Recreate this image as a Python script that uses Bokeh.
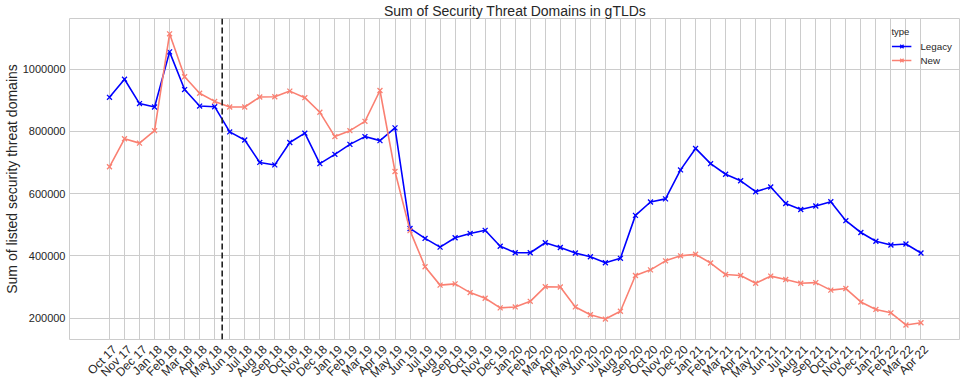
from bokeh.plotting import figure
from bokeh.models import (FixedTicker, BasicTickFormatter, Span, Range1d, Legend, LegendItem,
                          LinearAxis, Grid)
from bokeh.embed import file_html
from bokeh.resources import INLINE

months = ["Oct 17", "Nov 17", "Dec 17", "Jan 18", "Feb 18", "Mar 18", "Apr 18", "May 18",
          "Jun 18", "Jul 18", "Aug 18", "Sep 18", "Oct 18", "Nov 18", "Dec 18", "Jan 19",
          "Feb 19", "Mar 19", "Apr 19", "May 19", "Jun 19", "Jul 19", "Aug 19", "Sep 19",
          "Oct 19", "Nov 19", "Dec 19", "Jan 20", "Feb 20", "Mar 20", "Apr 20", "May 20",
          "Jun 20", "Jul 20", "Aug 20", "Sep 20", "Oct 20", "Nov 20", "Dec 20", "Jan 21",
          "Feb 21", "Mar 21", "Apr 21", "May 21", "Jun 21", "Jul 21", "Aug 21", "Sep 21",
          "Oct 21", "Nov 21", "Dec 21", "Jan 22", "Feb 22", "Mar 22", "Apr 22"]

legacy = [909000, 967000, 889000, 878000, 1055000, 934000, 881000, 879000,
          798000, 772000, 700000, 692000, 764000, 794000, 696000, 726000,
          758000, 783000, 770000, 811000, 488000, 456000, 428000, 458000,
          472000, 482000, 431000, 410000, 410000, 442000, 427000, 409000,
          397000, 378000, 392000, 530000, 573000, 583000, 676000, 745000,
          696000, 662000, 641000, 606000, 621000, 568000, 549000, 560000,
          574000, 513000, 475000, 447000, 435000, 438000, 409000]

new = [686000, 776000, 762000, 802000, 1113000, 975000, 922000, 896000,
       878000, 878000, 910000, 911000, 929000, 908000, 861000, 783000,
       802000, 832000, 931000, 671000, 481000, 365000, 306000, 310000,
       282000, 264000, 233000, 236000, 254000, 301000, 300000, 236000,
       211000, 197000, 222000, 337000, 355000, 384000, 400000, 405000,
       377000, 340000, 337000, 312000, 335000, 324000, 312000, 314000,
       290000, 295000, 252000, 228000, 217000, 178000, 185000]

y_ticks = [200000, 400000, 600000, 800000, 1000000]
event_index = 7.5  # dashed marker between May 18 and Jun 18

FONT = "Liberation Sans"
TXT = "#262626"
GRID = "#cccccc"

x = list(range(len(months)))
x_start, x_end = -2.66, len(months) - 1 + 2.63
label_shift = 0.35  # rotated labels sit centred under their ticks, as in the reference

p = figure(width=960, height=388, output_backend="svg", toolbar_location=None,
           x_range=Range1d(x_start, x_end),
           y_range=Range1d(131400, 1162200),
           x_axis_location=None,
           min_border_left=68, min_border_right=0, min_border_top=16, min_border_bottom=46,
           title="Sum of Security Threat Domains in gTLDs")
p.extra_x_ranges = {"labels": Range1d(x_start - label_shift, x_end - label_shift)}

p.title.align = "center"
p.title.text_font = FONT
p.title.text_font_size = "14px"
p.title.text_font_style = "normal"
p.title.text_color = TXT
p.title.standoff = 0
p.title.offset = 0

p.outline_line_color = GRID
p.outline_line_width = 1

xaxis = LinearAxis(x_range_name="labels", ticker=FixedTicker(ticks=x),
                   major_label_overrides={i: m for i, m in enumerate(months)},
                   major_label_orientation=0.785398)
p.add_layout(xaxis, "below")
p.add_layout(Grid(dimension=0, ticker=FixedTicker(ticks=x), grid_line_color=GRID, grid_line_width=1))

p.yaxis.ticker = FixedTicker(ticks=y_ticks)
p.yaxis.formatter = BasicTickFormatter(use_scientific=False)

for ax in (xaxis, p.yaxis[0]):
    ax.axis_line_color = None
    ax.major_tick_line_color = None
    ax.minor_tick_line_color = None
    ax.major_tick_out = 0
    ax.major_tick_in = 0
    ax.minor_tick_out = 0
    ax.major_label_text_font = FONT
    ax.major_label_text_color = TXT
    ax.axis_label_text_font = FONT
    ax.axis_label_text_color = TXT
    ax.axis_label_text_font_style = "normal"

xaxis.major_label_text_font_size = "12px"
xaxis.major_label_standoff = 8
p.yaxis.major_label_text_font_size = "11px"
p.yaxis.major_label_standoff = 4
p.yaxis.axis_label = "Sum of listed security threat domains"
p.yaxis.axis_label_text_font_size = "14px"
p.yaxis.axis_label_standoff = 0

p.ygrid.grid_line_color = GRID
p.ygrid.grid_line_width = 1

l1 = p.line(x, legacy, line_color="blue", line_width=1.6)
s1 = p.scatter(x, legacy, marker="x", size=7, line_color="blue", line_width=1.3)
l2 = p.line(x, new, line_color="salmon", line_width=1.6)
s2 = p.scatter(x, new, marker="x", size=7, line_color="salmon", line_width=1.3)

p.add_layout(Span(location=event_index, dimension="height", line_color="#222222",
                  line_width=1.6, line_dash="6 3"))

legend = Legend(items=[LegendItem(label="Legacy", renderers=[l1, s1]),
                       LegendItem(label="New", renderers=[l2, s2])],
                location="top_right", title="type")
legend.border_line_color = None
legend.background_fill_alpha = 0
legend.title_text_font = FONT
legend.title_text_font_size = "9.5px"
legend.title_text_font_style = "normal"
legend.title_text_color = TXT
legend.title_standoff = 3
legend.label_text_font = FONT
legend.label_text_font_size = "9.8px"
legend.label_text_color = TXT
legend.glyph_width = 20
legend.glyph_height = 12
legend.label_height = 12
legend.label_width = 10
legend.spacing = 2
legend.label_standoff = 9
legend.padding = 5
legend.margin = 8
p.add_layout(legend)

open("out.html", "w").write(file_html(p, INLINE))
